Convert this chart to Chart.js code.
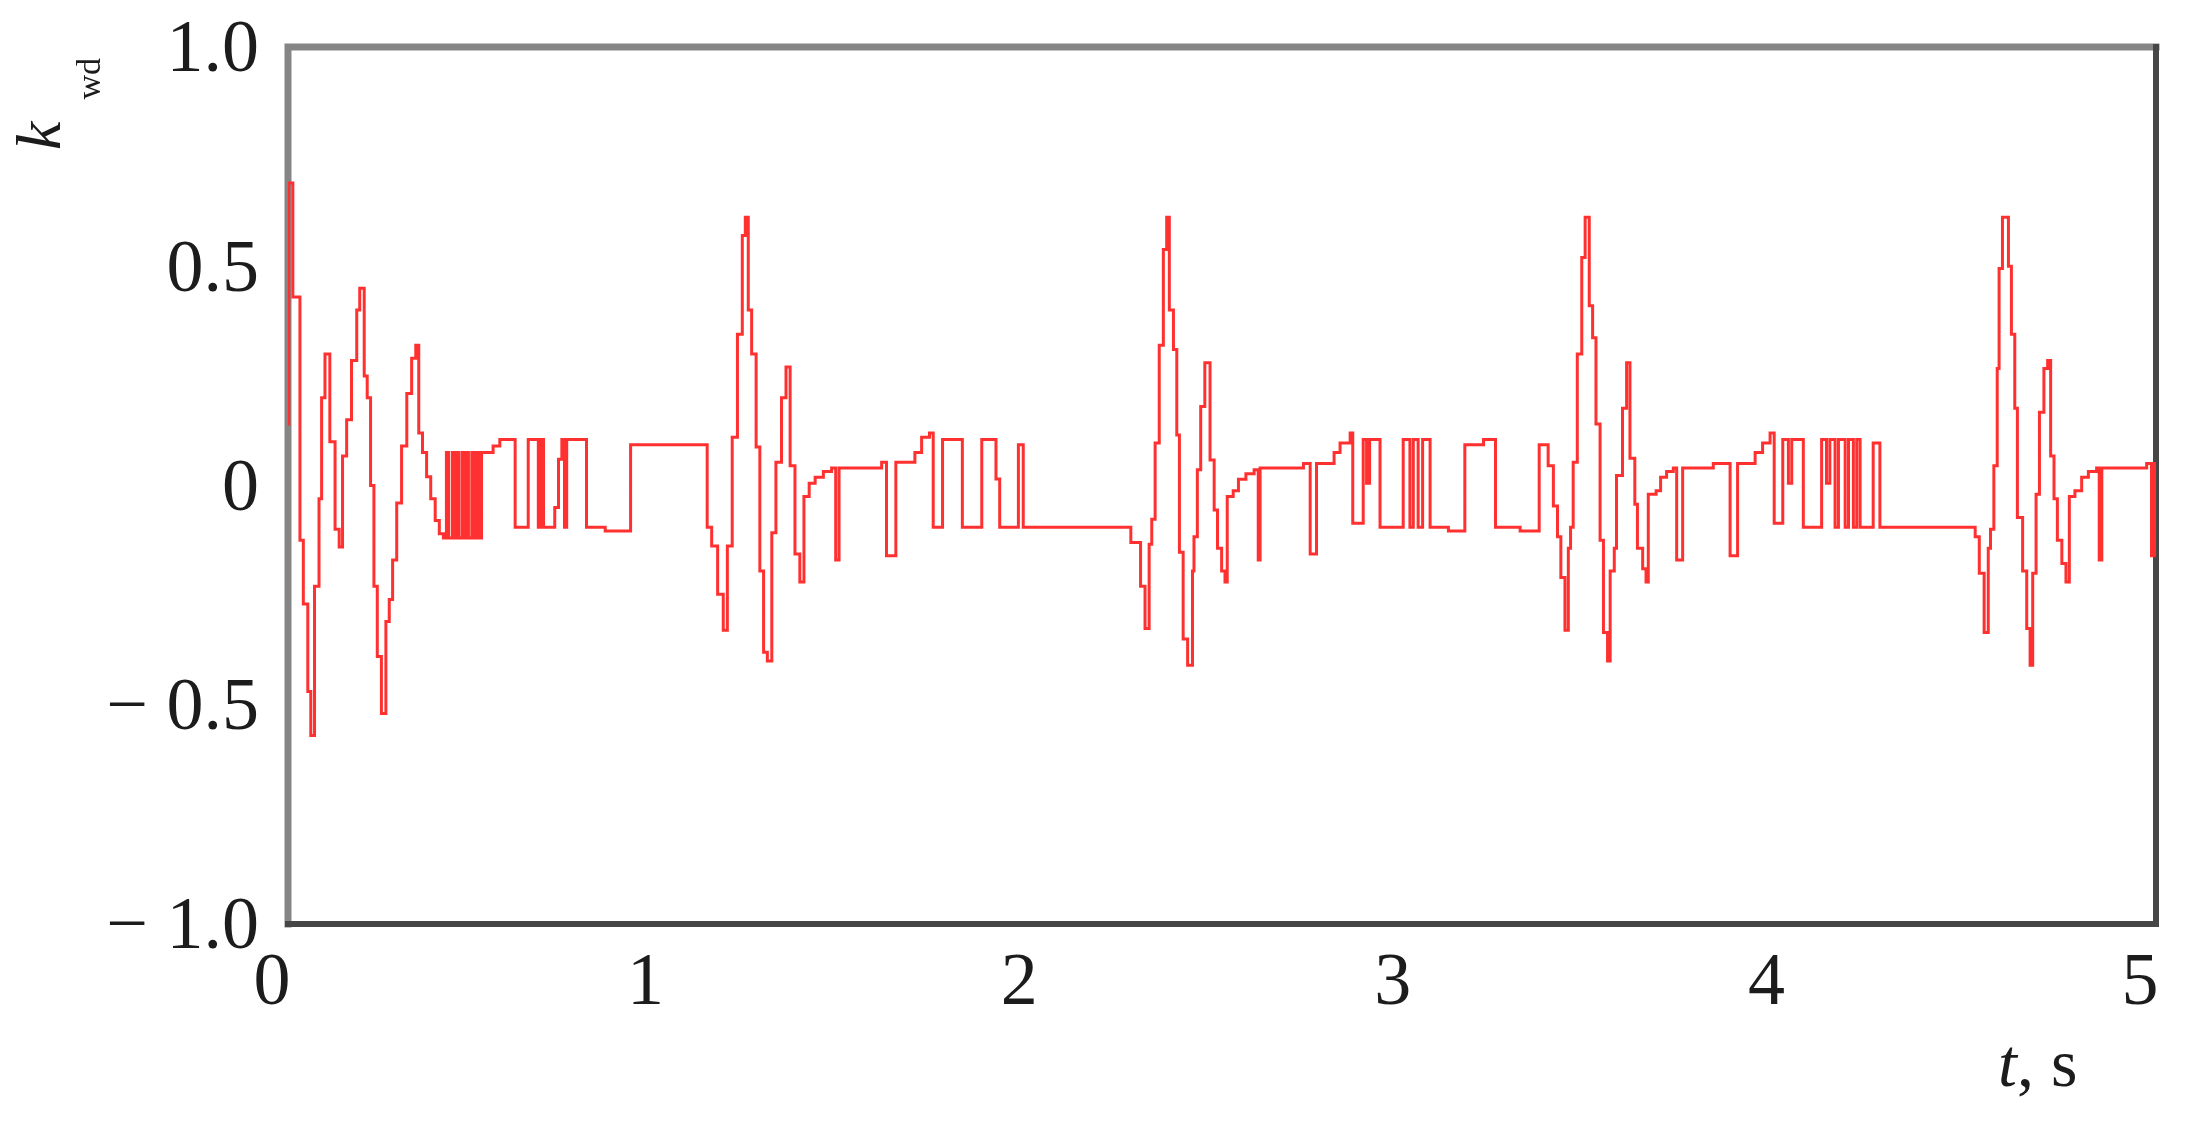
<!DOCTYPE html>
<html>
<head>
<meta charset="utf-8">
<title>k_wd vs t</title>
<script src="https://cdn.jsdelivr.net/npm/chart.js@4.4.0/dist/chart.umd.min.js"></script>
<style>
  html, body { margin: 0; padding: 0; background: #fff; }
  #chart { display: block; }
</style>
</head>
<body>
<canvas id="chart" width="2199" height="1127"></canvas>
<script>
// axis ticks
const xTicks = [0, 1, 2, 3, 4, 5];
const yTicks = [-1, -0.5, 0, 0.5, 1];

// k_wd(t): sample-and-hold signal, each point = (time of change, new value)
const times = [
  // period 1
  0.000, 0.002, 0.013, 0.032, 0.041, 0.053, 0.061, 0.071, 0.083, 0.090,
  0.099, 0.112, 0.126, 0.137, 0.146, 0.157, 0.170, 0.184, 0.192, 0.204,
  0.212, 0.221, 0.230, 0.239, 0.250, 0.262, 0.271, 0.280, 0.291, 0.304,
  0.318, 0.331, 0.342, 0.350, 0.360, 0.371, 0.382, 0.394, 0.405, 0.416,
  0.424, 0.430, 0.440, 0.444, 0.452, 0.457, 0.466, 0.470, 0.478, 0.483,
  0.492, 0.497, 0.505, 0.510, 0.518,
  0.549, 0.567, 0.608, 0.643, 0.670, 0.676, 0.684, 0.714, 0.724,
  0.733, 0.740, 0.746, 0.799, 0.849, 0.917,
  // period 2
  1.122, 1.134, 1.150, 1.165, 1.176, 1.189, 1.203, 1.216, 1.224, 1.232,
  1.241, 1.253, 1.263, 1.273, 1.283, 1.295, 1.306, 1.321, 1.333, 1.344,
  1.357, 1.370, 1.381, 1.395, 1.411, 1.433, 1.455, 1.466, 1.475, 1.589,
  1.602, 1.627, 1.678, 1.696, 1.717, 1.727, 1.752, 1.805, 1.857, 1.895,
  1.905, 1.925, 1.955, 1.968,
  // period 3
  2.256, 2.282, 2.294, 2.305, 2.312, 2.321, 2.332, 2.343, 2.352, 2.359,
  2.370, 2.379, 2.386, 2.396, 2.408, 2.421, 2.425, 2.434, 2.443, 2.454,
  2.468, 2.479, 2.488, 2.499, 2.508, 2.514, 2.530, 2.544, 2.564, 2.586,
  2.597, 2.602, 2.718, 2.736, 2.753, 2.800, 2.816, 2.843, 2.850, 2.878,
  2.887, 2.895, 2.923, 2.985, 3.003, 3.012, 3.025, 3.037, 3.057, 3.106,
  3.150, 3.200, 3.232,
  // period 4
  3.298, 3.349, 3.373, 3.387, 3.398, 3.407, 3.418, 3.427, 3.433, 3.440,
  3.451, 3.463, 3.472, 3.483, 3.492, 3.501, 3.512, 3.521, 3.532, 3.539,
  3.550, 3.556, 3.572, 3.583, 3.592, 3.605, 3.612, 3.626, 3.635, 3.641,
  3.662, 3.674, 3.690, 3.708, 3.717, 3.733, 3.815, 3.860, 3.880, 3.927,
  3.947, 3.967, 3.978, 4.001, 4.016, 4.025, 4.056, 4.105, 4.118, 4.127,
  4.141, 4.150, 4.168, 4.177, 4.190, 4.199, 4.208, 4.243, 4.261,
  // period 5
  4.516, 4.527, 4.540, 4.551, 4.557, 4.566, 4.575, 4.580, 4.589, 4.605,
  4.613, 4.622, 4.629, 4.643, 4.654, 4.663, 4.670, 4.679, 4.688, 4.700,
  4.710, 4.718, 4.727, 4.736, 4.748, 4.759, 4.768, 4.783, 4.801, 4.819,
  4.841, 4.848, 4.855, 4.975, 4.988, 4.995, 5.000
];
const values = [
  // period 1
  0.14, 0.69, 0.43, -0.125, -0.27, -0.47, -0.57, -0.23, -0.03, 0.20,
  0.30, 0.10, -0.10, -0.14, 0.067, 0.15, 0.285, 0.40, 0.45, 0.25,
  0.20, 0.0, -0.23, -0.39, -0.52, -0.31, -0.26, -0.17, -0.04, 0.09,
  0.21, 0.29, 0.32, 0.12, 0.075, 0.02, -0.03, -0.08, -0.11, -0.12,
  0.075, -0.12, 0.075, -0.12, 0.075, -0.12, 0.075, -0.12, 0.075, -0.12,
  0.075, -0.12, 0.075, -0.12, 0.075,
  0.09, 0.105, -0.095, 0.105, -0.095, 0.105, -0.095, -0.05, 0.06,
  0.105, -0.095, 0.105, -0.095, -0.104, 0.093,
  // period 2
  -0.095, -0.138, -0.248, -0.33, -0.138, 0.11, 0.345, 0.57, 0.612, 0.40,
  0.30, 0.088, -0.195, -0.38, -0.40, -0.108, 0.053, 0.20, 0.27, 0.045,
  -0.156, -0.22, -0.025, 0.005, 0.019, 0.032, 0.04, -0.17, 0.04, 0.053,
  -0.16, 0.053, 0.075, 0.11, 0.12, -0.095, 0.105, -0.095, 0.105, 0.015,
  -0.095, -0.095, 0.093, -0.095,
  // period 3
  -0.13, -0.23, -0.326, -0.134, -0.077, 0.097, 0.32, 0.538, 0.612, 0.40,
  0.31, 0.115, -0.152, -0.35, -0.41, -0.195, -0.117, 0.036, 0.18, 0.28,
  0.058, -0.056, -0.143, -0.195, -0.22, -0.025, -0.012, 0.014, 0.027, 0.036,
  -0.17, 0.04, 0.05, -0.156, 0.05, 0.075, 0.097, 0.12, -0.086, 0.105,
  0.005, 0.105, -0.095, 0.105, -0.095, 0.105, -0.095, 0.105, -0.095, -0.104,
  0.093, 0.105, -0.095,
  // period 4
  -0.104, 0.093, 0.045, -0.047, -0.117, -0.21, -0.33, -0.143, -0.095, 0.053,
  0.30, 0.52, 0.612, 0.41, 0.337, 0.14, -0.125, -0.335, -0.40, -0.195,
  -0.143, 0.023, 0.176, 0.28, 0.062, -0.043, -0.143, -0.19, -0.22, -0.02,
  -0.012, 0.019, 0.032, 0.04, -0.17, 0.04, 0.05, -0.16, 0.05, 0.075,
  0.097, 0.12, -0.086, 0.105, 0.005, 0.105, -0.095, 0.105, 0.005, 0.105,
  -0.095, 0.105, -0.095, 0.105, -0.095, 0.105, -0.095, 0.097, -0.095,
  // period 5
  -0.117, -0.2, -0.335, -0.143, -0.10, 0.045, 0.267, 0.495, 0.612, 0.50,
  0.345, 0.176, -0.073, -0.195, -0.326, -0.41, -0.2, -0.02, 0.167, 0.267,
  0.285, 0.067, -0.03, -0.125, -0.178, -0.22, -0.025, -0.012, 0.019, 0.032,
  0.04, -0.17, 0.04, 0.05, -0.16, 0.05, -0.16
];

const points = times.map((t, i) => ({ x: t, y: values[i] }));

const serif = '"Liberation Serif", "Times New Roman", serif';
const textColor = '#1c1c1c';

function yLabel(v) {
  if (v === 0) return '0';
  if (v < 0) return '\u2212 ' + Math.abs(v).toFixed(1);
  return v.toFixed(1);
}

// plot frame: lighter top/left, darker bottom/right
const framePlugin = {
  id: 'frame',
  beforeDatasetsDraw(chart) {
    const { ctx, chartArea: a } = chart;
    ctx.save();
    ctx.lineCap = 'square';
    ctx.strokeStyle = '#858585';
    ctx.lineWidth = 7;
    ctx.beginPath();
    ctx.moveTo(a.left, a.bottom);
    ctx.lineTo(a.left, a.top);
    ctx.lineTo(a.right, a.top);
    ctx.stroke();
    ctx.strokeStyle = '#464646';
    ctx.lineWidth = 6;
    ctx.beginPath();
    ctx.moveTo(a.left, a.bottom);
    ctx.lineTo(a.right, a.bottom);
    ctx.lineTo(a.right, a.top);
    ctx.stroke();
    ctx.restore();
  }
};

// axis titles: "t, s" bottom right, rotated k_wd top left
const titlesPlugin = {
  id: 'titles',
  afterDraw(chart) {
    const { ctx, chartArea: a } = chart;
    ctx.save();
    ctx.fillStyle = textColor;
    ctx.textBaseline = 'alphabetic';
    ctx.textAlign = 'left';

    let x = a.right - 158;
    const y = a.bottom + 162;
    ctx.font = 'italic 68px ' + serif;
    ctx.fillText('t', x, y);
    x += ctx.measureText('t').width;
    ctx.font = '68px ' + serif;
    ctx.fillText(', s', x, y);

    ctx.translate(60, 150);
    ctx.rotate(-Math.PI / 2);
    ctx.font = 'italic 64px ' + serif;
    ctx.fillText('k', 0, 0);
    const kw = ctx.measureText('k').width;
    ctx.font = '34px ' + serif;
    ctx.fillText('wd', kw + 22, 40);
    ctx.restore();
  }
};

new Chart(document.getElementById('chart'), {
  type: 'line',
  data: {
    datasets: [{
      data: points,
      borderColor: '#ff3030',
      borderWidth: 3,
      pointRadius: 0,
      stepped: true,
      fill: false,
      tension: 0
    }]
  },
  options: {
    responsive: false,
    animation: false,
    devicePixelRatio: 1,
    layout: { padding: { top: 47, right: 43, bottom: 0, left: 0 } },
    plugins: { legend: { display: false }, tooltip: { enabled: false } },
    scales: {
      x: {
        type: 'linear',
        min: 0,
        max: 5,
        afterBuildTicks: s => { s.ticks = xTicks.map(v => ({ value: v })); },
        afterFit: s => { s.height = 203; },
        grid: { display: false, drawTicks: false },
        border: { display: false },
        ticks: {
          font: { family: serif, size: 74 },
          color: textColor,
          padding: 16,
          labelOffset: -16,
          maxRotation: 0,
          autoSkip: false,
          callback: v => String(v)
        }
      },
      y: {
        type: 'linear',
        min: -1,
        max: 1,
        afterBuildTicks: s => { s.ticks = yTicks.map(v => ({ value: v })); },
        afterFit: s => { s.width = 288; s.paddingTop = 0; s.paddingBottom = 0; },
        grid: { display: false, drawTicks: false },
        border: { display: false },
        ticks: {
          font: { family: serif, size: 74 },
          color: textColor,
          padding: 29,
          labelOffset: 5,
          autoSkip: false,
          callback: yLabel
        }
      }
    }
  },
  plugins: [framePlugin, titlesPlugin]
});
</script>
</body>
</html>
